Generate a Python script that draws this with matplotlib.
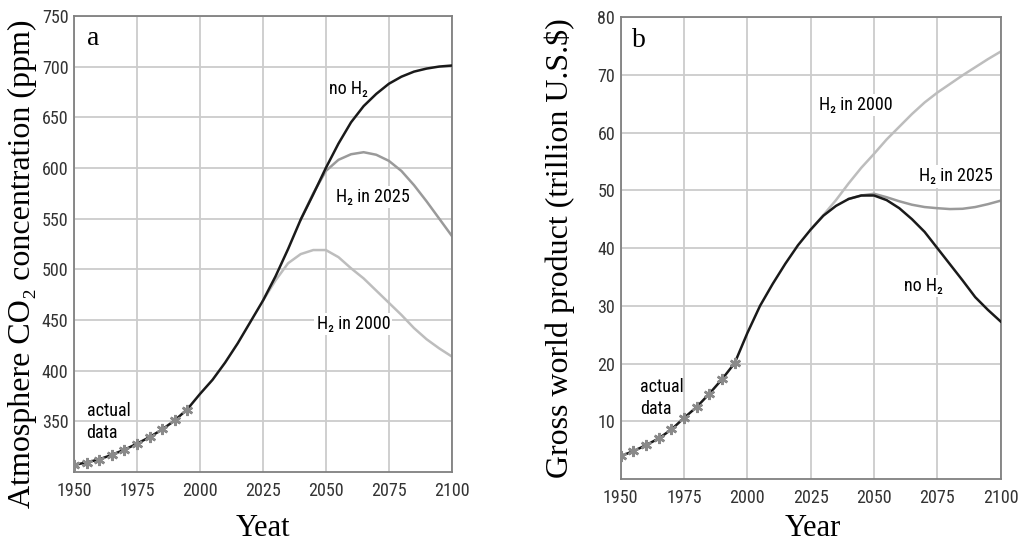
import matplotlib
matplotlib.use("Agg")
import matplotlib.pyplot as plt
from matplotlib import font_manager as fm

# ---- data ----
years = list(range(1950, 2101, 5))

# panel a: atmospheric CO2 (ppm)
co2_no_h2 = [307, 309.5, 312.5, 317, 322, 328, 334.5, 342, 351, 362,
             377, 391, 408, 427, 448, 469, 493, 520, 549, 574,
             600, 624, 645, 661, 673, 683, 690, 695, 698, 700, 701]
co2_h2_2025_years = list(range(2040, 2101, 5))
co2_h2_2025 = [549, 575, 597, 608, 613.5, 615.5, 613, 607, 597, 583, 567, 550, 533]
co2_h2_2000_years = list(range(2025, 2101, 5))
co2_h2_2000 = [469, 489, 506, 515, 519, 519, 512, 501, 491, 479, 467, 455, 442, 431, 422, 414]
co2_actual_years = list(range(1950, 1996, 5))
co2_actual = [306.6, 308.9, 312.3, 316.9, 322.2, 328.1, 334.5, 342.8, 351.7, 361.5]

# panel b: gross world product (trillion US$)
gwp_no_h2 = [4.0, 4.85, 5.9, 7.05, 8.6, 10.6, 12.5, 14.8, 17.3, 20.1,
             25.3, 30, 33.8, 37.3, 40.5, 43.2, 45.6, 47.3, 48.5, 49.1,
             49.1, 48.3, 46.9, 45.0, 42.8, 40.0, 37.2, 34.4, 31.5, 29.3, 27.3]
gwp_h2_2025_years = list(range(2040, 2101, 5))
gwp_h2_2025 = [48.5, 49.1, 49.4, 48.8, 48.1, 47.5, 47.1, 46.9, 46.75, 46.8, 47.1, 47.6, 48.2]
gwp_h2_2000_years = list(range(2025, 2101, 5))
gwp_h2_2000 = [43.2, 45.7, 48.3, 51.2, 53.9, 56.3, 58.8, 61.0, 63.2, 65.2, 66.9, 68.4, 69.9, 71.3, 72.7, 74.0]
gwp_actual_years = list(range(1950, 1996, 5))
gwp_actual = [4.03, 4.85, 5.89, 7.05, 8.6, 10.6, 12.5, 14.8, 17.3, 20.1]

xticks = [1950, 1975, 2000, 2025, 2050, 2075, 2100]

# a condensed sans for the ticks and notes, whichever is installed
installed = set(f.name for f in fm.fontManager.ttflist)
narrow = next((n for n in ['Roboto Condensed', 'Archivo Narrow', 'PT Sans Narrow',
                           'Fira Sans Condensed', 'Pragati Narrow'] if n in installed), 'DejaVu Sans')
sans = [narrow, 'DejaVu Sans']
serif = ['Liberation Serif', 'DejaVu Serif']

c_black = '#1a1a1a'
c_mid = '#9a9a9a'
c_light = '#bdbdbd'
c_marker = '#8a8a8a'
box = dict(facecolor='white', edgecolor='none', pad=1.5)

fig = plt.figure(figsize=(10.21, 5.47), dpi=100)
ax_a = fig.add_axes([0.0725, 0.137, 0.370, 0.834])
ax_b = fig.add_axes([0.608, 0.124, 0.372, 0.845])


def style(ax, ylim, yticks):
    ax.set_xlim(1950, 2100)
    ax.set_ylim(*ylim)
    ax.set_xticks(xticks)
    ax.set_yticks(yticks)
    ax.set_axisbelow(True)
    ax.grid(True, color='#cccccc', lw=1.3)
    for s in ax.spines.values():
        s.set_color('#808080')
        s.set_linewidth(1.3)
    ax.tick_params(length=0, labelcolor='#333333')
    ax.tick_params(axis='x', pad=7)
    ax.tick_params(axis='y', pad=4)
    for lab in ax.get_xticklabels() + ax.get_yticklabels():
        lab.set_family(sans)
        lab.set_fontsize(13)


def note(ax, x, y, s, **kw):
    ax.text(x, y, s, family=sans, fontsize=13, ha='center', va='center',
            bbox=box, zorder=1, **kw)


# ---- panel a ----
style(ax_a, (300, 750), range(350, 751, 50))
ax_a.plot(co2_h2_2000_years, co2_h2_2000, color=c_light, lw=1.8, zorder=2)
ax_a.plot(co2_h2_2025_years, co2_h2_2025, color=c_mid, lw=1.8, zorder=2)
ax_a.plot(years, co2_no_h2, color=c_black, lw=1.8, zorder=3)
ax_a.plot(co2_actual_years, co2_actual, ls='none', marker=(6, 2, 0), ms=8,
          mew=1.8, color=c_marker, zorder=4)
note(ax_a, 2058.9, 678, 'no H₂')
note(ax_a, 2068.8, 571, 'H₂ in 2025')
note(ax_a, 2060.9, 446, 'H₂ in 2000')
ax_a.text(1955, 349, 'actual\ndata', family=sans, fontsize=13, ha='left', va='center', linespacing=1.3, zorder=1)
ax_a.text(1955, 728, 'a', family=serif, fontsize=20, ha='left', va='center')
ax_a.set_ylabel('Atmosphere CO₂ concentration (ppm)', family=serif, fontsize=23)
ax_a.yaxis.set_label_coords(-0.098, 0.457)
ax_a.set_xlabel('Yeat', family=serif, fontsize=22)
ax_a.xaxis.set_label_coords(0.5, -0.092)

# ---- panel b ----
style(ax_b, (0, 80), range(10, 81, 10))
ax_b.plot(gwp_h2_2000_years, gwp_h2_2000, color=c_light, lw=1.8, zorder=2)
ax_b.plot(gwp_h2_2025_years, gwp_h2_2025, color=c_mid, lw=1.8, zorder=2)
ax_b.plot(years, gwp_no_h2, color=c_black, lw=1.8, zorder=3)
ax_b.plot(gwp_actual_years, gwp_actual, ls='none', marker=(6, 2, 0), ms=8,
          mew=1.8, color=c_marker, zorder=4)
note(ax_b, 2043, 64.8, 'H₂ in 2000')
note(ax_b, 2082.5, 52.4, 'H₂ in 2025')
note(ax_b, 2069.4, 33.4, 'no H₂')
ax_b.text(1957.5, 14, 'actual\ndata', family=sans, fontsize=13, ha='left', va='center', linespacing=1.3, zorder=1)
ax_b.text(1954.3, 76, 'b', family=serif, fontsize=20, ha='left', va='center')
ax_b.set_ylabel('Gross world product (trillion U.S.$)', family=serif, fontsize=23)
ax_b.yaxis.set_label_coords(-0.121, 0.499)
ax_b.set_xlabel('Year', family=serif, fontsize=22)
ax_b.xaxis.set_label_coords(0.505, -0.075)

fig.savefig('out.png', dpi=100)
